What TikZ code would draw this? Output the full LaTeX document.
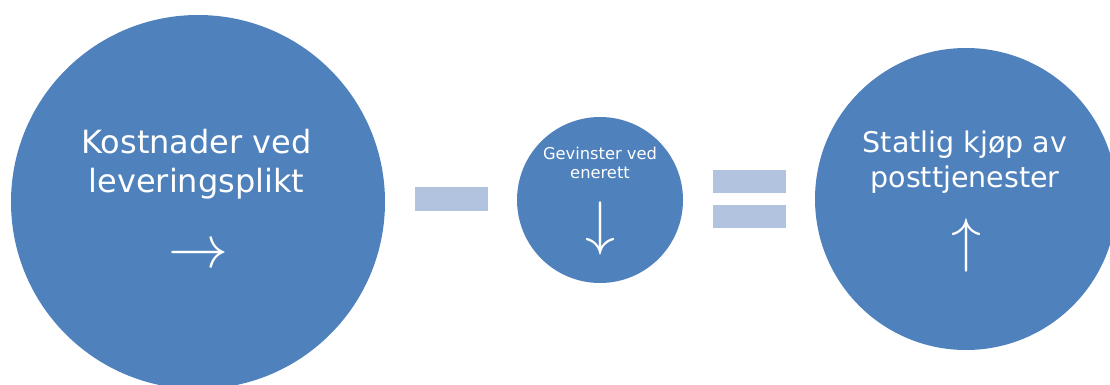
\documentclass[tikz,border=0pt]{standalone}
\usepackage{amsmath, amssymb}
\usepackage{xcolor}
\usepackage{fontspec}
\setmainfont{DejaVu Sans}
\usepackage{tikz}
\usetikzlibrary{positioning,shapes}

\definecolor{circblue}{HTML}{4F81BD}
\definecolor{barblue}{HTML}{B1C3DE}

\begin{document}
\begin{tikzpicture}[
		x=1pt, y=-1pt,
		bubble/.style={circle, draw=none, fill=circblue, inner sep=0pt},
		bar/.style={rectangle, draw=none, fill=barblue, inner sep=0pt, minimum width=73pt},
		label/.style={text=white, align=center, inner sep=0pt, anchor=base},
		dirarrow/.style={text=white, inner sep=0pt, scale=6},
		]
		\useasboundingbox (0,0) rectangle (1110,385);
		\clip (0,0) rectangle (1110,385);

		%Main Nodes
		\node[bubble, minimum size=374pt]	(kostnader)	at (198,202)	{};
		\node[bubble, minimum size=166pt]	(gevinster)	at (600,200)	{};
		\node[bubble, minimum size=302pt]	(statlig)	at (966,199)	{};

		%Operators
		\node[bar, minimum height=24pt]	(minus)		at (451.5,199)	{};
		\node[bar, minimum height=23pt]	(equal_1)	at (749.5,181.5)	{};
		\node[bar, minimum height=23pt]	(equal_2)	at (749.5,216.5)	{};

		%Labels (base = last line)
		\node[label, font=\fontsize{32}{39}\selectfont]	(kostnader_txt)	at (196.5,192)	{Kostnader ved\\leveringsplikt};
		\node[label, font=\fontsize{16.3}{19}\selectfont]	(gevinster_txt)	at (600,178)	{Gevinster ved\\enerett};
		\node[label, font=\fontsize{28.5}{35}\selectfont]	(statlig_txt)	at (965,187)	{Statlig kjøp av\\posttjenester};

		%Arrows
		\node[dirarrow]	(kostnader_arr)	at (198,256)	{$\rightarrow$};
		\node[dirarrow]	(gevinster_arr)	at (600,228.5)	{$\downarrow$};
		\node[dirarrow]	(statlig_arr)	at (966,245.5)	{$\uparrow$};

	\end{tikzpicture}
\end{document}
